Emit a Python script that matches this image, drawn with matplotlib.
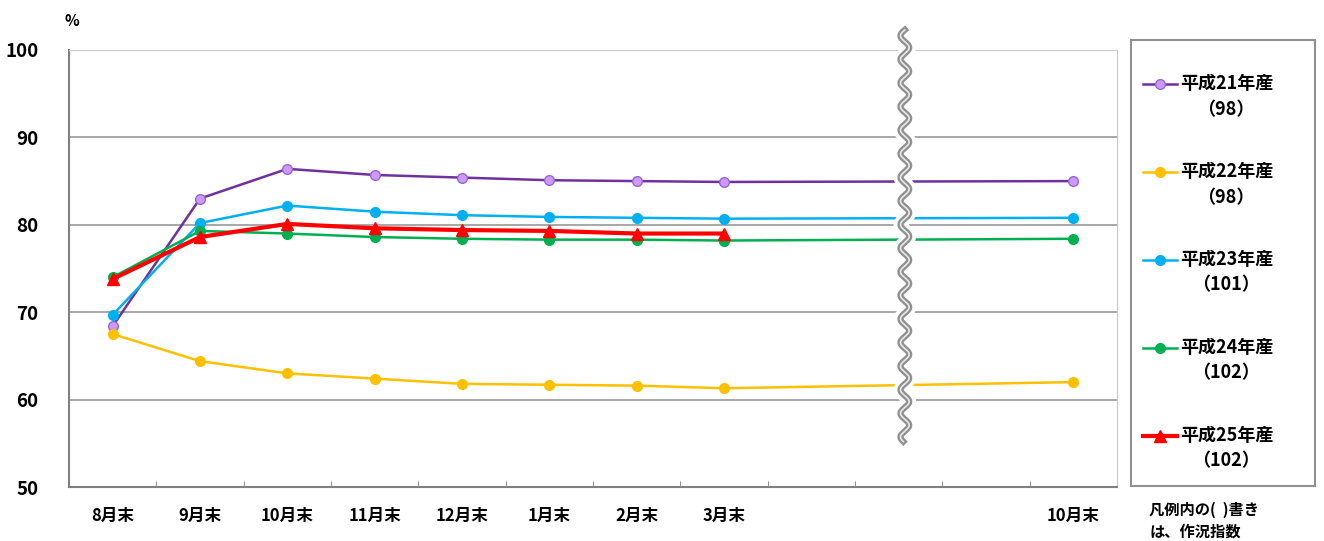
import numpy as np
import matplotlib
matplotlib.use("Agg")
import matplotlib.pyplot as plt
from matplotlib.lines import Line2D
from matplotlib.patches import Rectangle

plt.rcParams['font.family'] = ['Noto Sans CJK JP', 'DejaVu Sans']
plt.rcParams['font.weight'] = 'bold'

# categories on the x axis (blank slots are skipped months around the break)
months = ['8月末', '9月末', '10月末', '11月末', '12月末', '1月末', '2月末', '3月末', '', '', '', '10月末']

# progress values (%) per crop year, None = no data
h21 = [68.4, 83.0, 86.4, 85.7, 85.4, 85.1, 85.0, 84.9, None, None, None, 85.0]
h22 = [67.5, 64.4, 63.0, 62.4, 61.8, 61.7, 61.6, 61.3, None, None, None, 62.0]
h23 = [69.7, 80.2, 82.2, 81.5, 81.1, 80.9, 80.8, 80.7, None, None, None, 80.8]
h24 = [74.0, 79.3, 79.0, 78.6, 78.4, 78.3, 78.3, 78.2, None, None, None, 78.4]
h25 = [73.8, 78.6, 80.1, 79.6, 79.4, 79.3, 79.0, 79.0, None, None, None, None]

series_names = ['平成21年産', '平成22年産', '平成23年産', '平成24年産', '平成25年産']
crop_index = [98, 98, 101, 102, 102]

styles = [
    dict(color='#7030A0', marker='o', mfc='#CC99FF', mec='#9966CC', ms=7, lw=1.8),
    dict(color='#FFC000', marker='o', mfc='#FFC000', mec='#FFC000', ms=7, lw=1.8),
    dict(color='#00B0F0', marker='o', mfc='#00B0F0', mec='#00B0F0', ms=7, lw=1.8),
    dict(color='#00B050', marker='o', mfc='#00B050', mec='#00B050', ms=7, lw=1.8),
    dict(color='#FF0000', marker='^', mfc='#FF0000', mec='#FF0000', ms=8, lw=3.0),
]

fig = plt.figure(figsize=(13.24, 5.41), dpi=100)
ax = fig.add_axes([0.0521, 0.0998, 0.7916, 0.8078])

x = np.arange(len(months))
for vals, st in zip([h21, h22, h23, h24, h25], styles):
    xs = [i for i, v in zip(x, vals) if v is not None]
    ys = [v for v in vals if v is not None]
    ax.plot(xs, ys, zorder=3, **st)

ax.set_xlim(-0.5, len(months) - 0.5)
ax.set_ylim(50, 100)
ax.set_yticks(range(50, 101, 10))
ax.set_yticklabels([str(v) for v in range(50, 101, 10)], fontsize=13.5, fontweight='bold')
ax.set_xticks(x)
ax.set_xticklabels(months, fontsize=12, fontweight='bold')
ax.set_xticks(np.arange(-0.5, len(months)), minor=True)
ax.tick_params(axis='x', which='major', length=0, pad=14)
ax.tick_params(axis='x', which='minor', length=4, direction='in', color='#808080')
ax.tick_params(axis='y', length=0, pad=22)
ax.yaxis.grid(True, color='#A0A0A0', lw=1.3)
ax.set_axisbelow(True)
for side in ['top', 'right']:
    ax.spines[side].set_color('#C8C8C8')
for side in ['left', 'bottom']:
    ax.spines[side].set_color('#808080')
    ax.spines[side].set_linewidth(1.5)

ax.text(-0.004, 1.055, '%', transform=ax.transAxes, fontsize=11, fontweight='bold', ha='left')

# wavy break mark between 3月末 and 10月末
yy = np.linspace(102.3, 55.2, 400)
xx = 9.07 + 0.05 * np.sin((yy - 102.3) * 2 * np.pi / 2.7)
ax.plot(xx, yy, color='white', lw=10, zorder=4, clip_on=False, solid_capstyle='butt')
ax.plot(xx, yy, color='#909090', lw=4.5, zorder=5, clip_on=False)
ax.plot(xx, yy, color='#E8E8E8', lw=1.2, zorder=6, clip_on=False)

# legend box
fig.add_artist(Rectangle((0.854, 0.102), 0.139, 0.824, transform=fig.transFigure,
                         fill=False, edgecolor='#909090', lw=1.5))
y0 = 0.845
for k, (name, idx, st) in enumerate(zip(series_names, crop_index, styles)):
    yl = y0 - k * 0.1625
    fig.add_artist(Line2D([0.863, 0.889], [yl, yl], transform=fig.transFigure,
                          color=st['color'], lw=st['lw']))
    fig.add_artist(Line2D([0.876], [yl], transform=fig.transFigure, marker=st['marker'],
                          mfc=st['mfc'], mec=st['mec'], ms=st['ms']))
    fig.text(0.8915, yl, name, fontsize=13, fontweight='bold', va='center', ha='left')
    fig.text(0.926, yl - 0.047, '（' + str(idx) + '）', fontsize=13, fontweight='bold',
             va='center', ha='center')

fig.text(0.868, 0.058, '凡例内の(  )書き', fontsize=11, fontweight='bold', va='center')
fig.text(0.868, 0.018, 'は、作況指数', fontsize=11, fontweight='bold', va='center')

fig.savefig('out.png', dpi=100)
